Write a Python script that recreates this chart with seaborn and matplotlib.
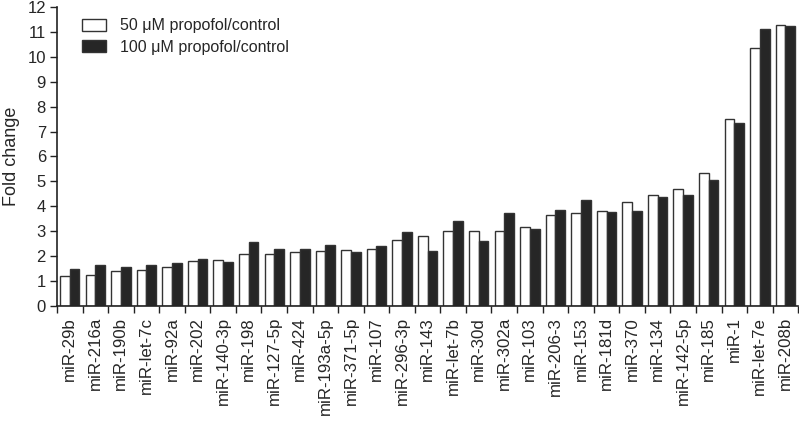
import numpy as np
import pandas as pd
import matplotlib
matplotlib.use("Agg")
import matplotlib.pyplot as plt
import seaborn as sns

categories = ["miR-29b", "miR-216a", "miR-190b", "miR-let-7c", "miR-92a", "miR-202",
              "miR-140-3p", "miR-198", "miR-127-5p", "miR-424", "miR-193a-5p", "miR-371-5p",
              "miR-107", "miR-296-3p", "miR-143", "miR-let-7b", "miR-30d", "miR-302a",
              "miR-103", "miR-206-3", "miR-153", "miR-181d", "miR-370", "miR-134",
              "miR-142-5p", "miR-185", "miR-1", "miR-let-7e", "miR-208b"]
vals_50 = [1.20, 1.25, 1.39, 1.45, 1.58, 1.82, 1.85, 2.07, 2.10, 2.16, 2.19, 2.24,
           2.28, 2.65, 2.80, 3.00, 3.03, 3.03, 3.16, 3.65, 3.75, 3.83, 4.18, 4.47,
           4.71, 5.34, 7.51, 10.37, 11.27]
vals_100 = [1.50, 1.63, 1.57, 1.66, 1.74, 1.90, 1.77, 2.56, 2.29, 2.29, 2.45, 2.16,
            2.42, 2.98, 2.21, 3.43, 2.62, 3.75, 3.10, 3.84, 4.24, 3.78, 3.80, 4.39,
            4.47, 5.07, 7.34, 11.10, 11.23]
series = ["50 \u03bcM propofol/control", "100 \u03bcM propofol/control"]
yticks = list(range(0, 13))

df = pd.DataFrame({
    "miRNA": categories * 2,
    "value": vals_50 + vals_100,
    "group": [series[0]] * len(categories) + [series[1]] * len(categories),
})

sns.set_style("ticks")
plt.rcParams['font.family'] = ['Liberation Sans', 'DejaVu Sans']

fig = plt.figure(figsize=(7.99, 4.23), dpi=100)
ax = fig.add_axes([57/799, (423-306)/423, (799-57)/799 - 0.001, (306-7)/423])

sns.barplot(data=df, x="miRNA", y="value", hue="group", order=categories,
            hue_order=series, palette=["white", "#262626"], width=0.76,
            edgecolor="#333333", linewidth=1.0, ax=ax, legend=True)

ax.set_xlim(-0.5, len(categories) - 0.5)
ax.set_ylim(0, 12)
ax.set_yticks(yticks)
ax.set_yticklabels([str(t) for t in yticks], fontsize=12)
ax.set_ylabel("Fold change", fontsize=13, labelpad=5)
ax.set_xlabel("")
ax.set_xticks(range(len(categories)))
ax.set_xticklabels(categories, rotation=90, fontsize=12.2)
ax.tick_params(axis="x", which="major", length=0, pad=8)
ax.set_xticks(np.arange(-0.5, len(categories), 1), minor=True)
ax.tick_params(axis="x", which="minor", length=5, width=1, color="#222222")
ax.tick_params(axis="y", length=5, width=1, color="#222222", pad=3)
for s in ["top", "right"]:
    ax.spines[s].set_visible(False)
for s in ["left", "bottom"]:
    ax.spines[s].set_linewidth(1.2)
    ax.spines[s].set_color("#222222")

leg = ax.legend(loc="upper left", bbox_to_anchor=(0.014, 1.01), frameon=False,
                fontsize=11.5, handlelength=1.5, handleheight=0.8, labelspacing=0.4,
                handletextpad=0.9)

fig.savefig("out.png", dpi=100)
